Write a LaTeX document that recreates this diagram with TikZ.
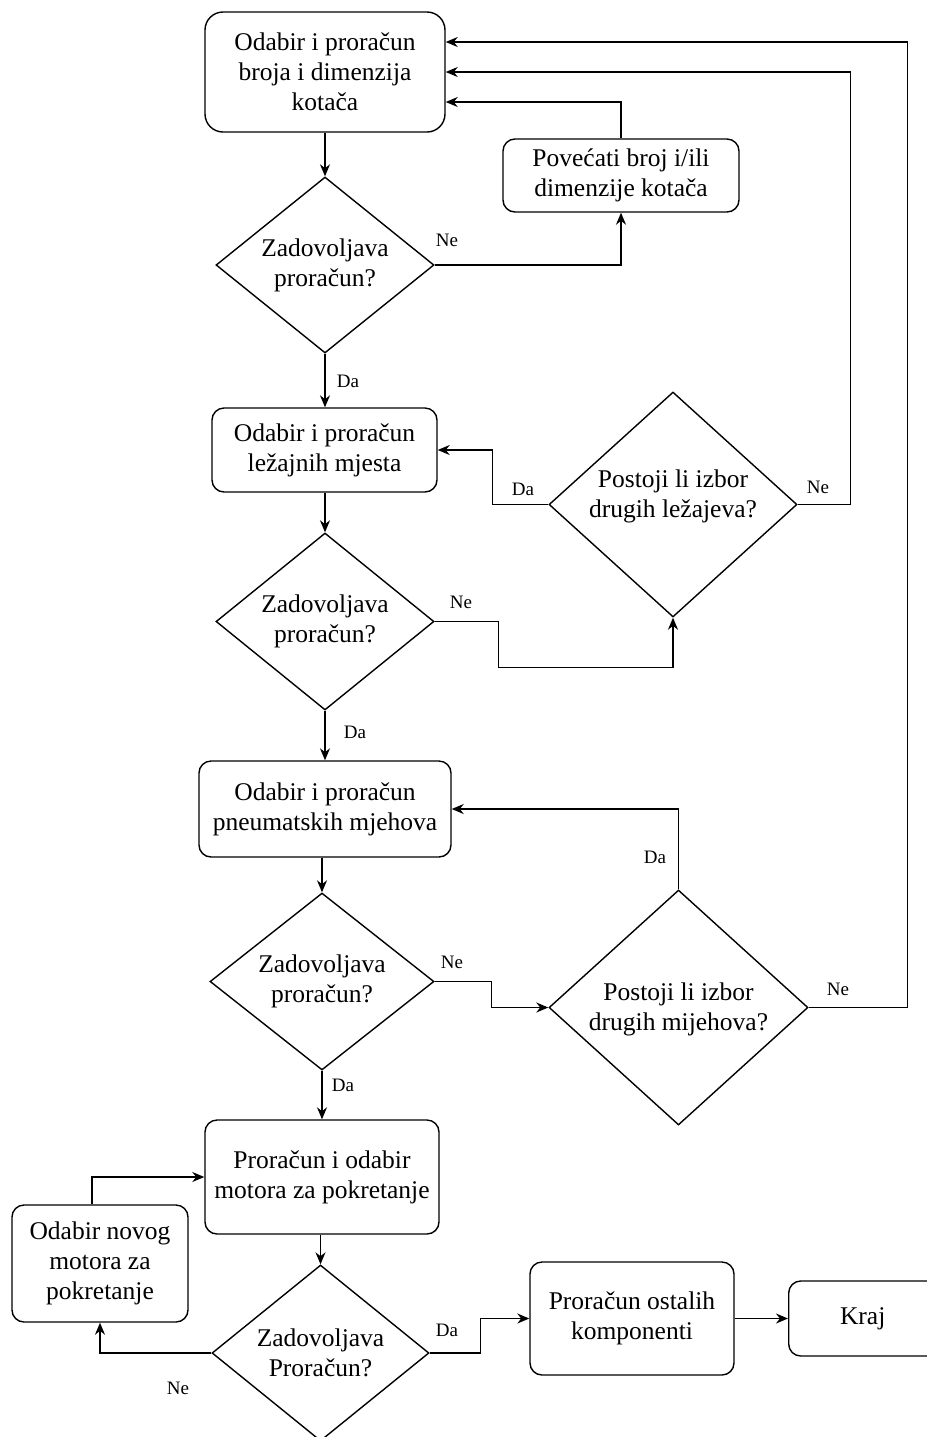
\documentclass[tikz,border=0pt]{standalone}
\usepackage{fontspec}
\setmainfont{Liberation Serif}
\usetikzlibrary{shapes.geometric,arrows.meta}
\begin{document}
\begin{tikzpicture}[x=0.5pt,y=-0.5pt,
  box/.style={draw, rounded corners=6pt, align=center, line width=0.7pt, font=\fontsize{12.75}{15}\selectfont, inner sep=0pt},
  dia/.style={draw, diamond, inner sep=0pt, line width=0.7pt},
  txt/.style={align=center, font=\fontsize{12.75}{15}\selectfont, inner sep=0pt},
  lbl/.style={font=\fontsize{9.5}{11}\selectfont, inner sep=0pt},
  arr/.style={draw, line width=0.7pt, -{Stealth[length=6pt,width=5pt]}},
  ]
\useasboundingbox (0,0) rectangle (927,1437);
% boxes
\node[box, minimum width=120pt, minimum height=60pt, rounded corners=9pt] (b1) at (325,72) {Odabir i proračun\\broja i dimenzija\\kotača};
\node[box, minimum width=118pt, minimum height=36.5pt] (pov) at (621,175.5) {Povećati broj i/ili\\dimenzije kotača};
\node[box, minimum width=112.5pt, minimum height=42pt] (b2) at (324.5,450) {Odabir i proračun\\ležajnih mjesta};
\node[box, minimum width=126pt, minimum height=48pt] (b3) at (325,809) {Odabir i proračun\\pneumatskih mjehova};
\node[box, minimum width=117pt, minimum height=57pt] (b4) at (322,1177) {Proračun i odabir\\motora za pokretanje};
\node[box, minimum width=88pt, minimum height=58.5pt] (b5) at (100,1263.5) {Odabir novog\\motora za\\pokretanje};
\node[box, minimum width=102pt, minimum height=56.5pt] (b6) at (632,1318.5) {Proračun ostalih\\komponenti};
\node[box, minimum width=84pt, minimum height=37.5pt, anchor=west] (kraj) at (788,1318.5) {\hspace*{-10pt}Kraj};
% diamonds
\node[dia, minimum width=109pt, minimum height=88pt] (d1) at (325,265) {};
\node[txt] at (d1) {Zadovoljava\\proračun?};
\node[dia, minimum width=124pt, minimum height=112.5pt] (pl) at (673,504.5) {};
\node[txt] at ([yshift=4pt]pl.center) {Postoji li izbor\\drugih ležajeva?};
\node[dia, minimum width=109pt, minimum height=88.5pt] (d3) at (325,621.5) {};
\node[txt] at (d3) {Zadovoljava\\proračun?};
\node[dia, minimum width=112pt, minimum height=88.5pt] (d4) at (322,981.5) {};
\node[txt] at (d4) {Zadovoljava\\proračun?};
\node[dia, minimum width=129.5pt, minimum height=117.5pt] (pm) at (678.5,1007.5) {};
\node[txt] at ([yshift=-1pt]pm.center) {Postoji li izbor\\drugih mijehova?};
\node[dia, minimum width=108.5pt, minimum height=88pt] (d6) at (320.5,1353) {};
\node[txt] at (d6) {Zadovoljava\\Proračun?};
% connectors
\draw[arr] (b1.south -| d1.north) -- (d1.north);
\draw[arr] (d1.east) -| (pov.south);
\draw[arr] (pov.north) |- ([yshift=-15pt]b1.east);
\draw[arr] (pl.east) -- ++(53,0) |- (b1.east);
\draw[arr] (pm.east) -- ++(99,0) |- ([yshift=15pt]b1.east);
\draw[arr] (d1.south) -- (d1.south |- b2.north);
\draw[arr] (pl.west) -- ++(-56,0) |- (b2.east);
\draw[arr] (b2.south -| d3.north) -- (d3.north);
\draw[arr] (d3.east) -- ++(64,0) -- ++(0,46) -| (pl.south);
\draw[arr] (d3.south) -- (d3.south |- b3.north);
\draw[arr] (b3.south -| d4.north) -- (d4.north);
\draw[arr] (d4.east) -- ++(57,0) |- (pm.west);
\draw[arr] (pm.north) |- (b3.east);
\draw[arr] (d4.south) -- (d4.south |- b4.north);
\draw[arr] (d6.north |- b4.south) -- (d6.north);
\draw[arr] (d6.west) -| (b5.south);
\draw[arr] ([xshift=-4pt]b5.north) |- (b4.west);
\draw[arr] (d6.east) -- ++(51,0) |- (b6.west);
\draw[arr] (b6.east) -- (kraj.west);
% labels
\node[lbl] (l1) at (447,240) {Ne};
\node[lbl] (l2) at (348,381) {Da};
\node[lbl] (l3) at (523,489) {Da};
\node[lbl] (l4) at (818,487) {Ne};
\node[lbl] (l5) at (461,602) {Ne};
\node[lbl] (l6) at (355,732) {Da};
\node[lbl] (l7) at (655,857) {Da};
\node[lbl] (l8) at (452,962) {Ne};
\node[lbl] (l9) at (838,989) {Ne};
\node[lbl] (l10) at (343,1085) {Da};
\node[lbl] (l11) at (178,1388) {Ne};
\node[lbl] (l12) at (447,1330) {Da};
\end{tikzpicture}
\end{document}
